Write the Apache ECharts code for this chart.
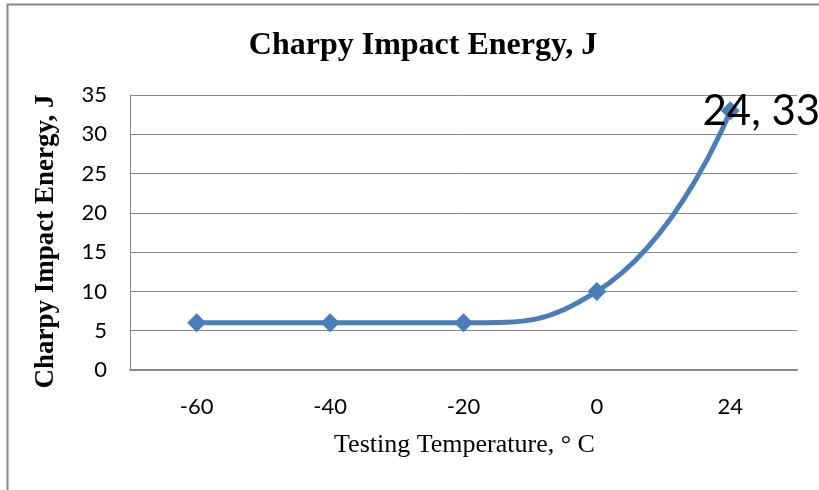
<!DOCTYPE html>
<html>
<head>
<meta charset="utf-8">
<script src="https://cdn.jsdelivr.net/npm/echarts@6/dist/echarts.min.js"></script>
<style>html,body{margin:0;padding:0;background:#fff}#c{width:819px;height:490px}</style>
</head>
<body>
<div id="c"></div>
<script>
var categories = ['-60', '-40', '-20', '0', '24'];
var energy = [6, 6, 6, 10, 33];
var yTicks = [0, 5, 10, 15, 20, 25, 30, 35];
var titleText = 'Charpy Impact Energy, J';
var yName = 'Charpy Impact Energy, J';
var xName = 'Testing Temperature, \u00b0 C';

var chart = echarts.init(document.getElementById('c'), null, {renderer: 'canvas'});
var lastIdx = energy.length - 1;
var seriesData = energy.map(function (v, i) {
  if (i === lastIdx) {
    return {
      value: v,
      label: {
        show: true,
        formatter: categories[i] + ', ' + v,
        position: 'inside',
        offset: [31, 1],
        fontFamily: 'Lato, "Open Sans", sans-serif',
        fontSize: 42,
        color: '#000'
      }
    };
  }
  return v;
});

chart.setOption({
  animation: false,
  backgroundColor: '#fff',
  graphic: [{
    type: 'polyline',
    shape: {points: [[7.5, 495], [7.5, 4.5], [830, 4.5]]},
    style: {stroke: '#888', lineWidth: 2, fill: null},
    z: 0
  }],
  title: {
    text: titleText,
    left: 418,
    textAlign: 'center',
    top: 25,
    textStyle: {fontFamily: '"Liberation Serif", "Times New Roman", serif', fontWeight: 'bold', fontSize: 32, color: '#000'}
  },
  grid: {left: 130, right: 22, top: 95, bottom: 120, containLabel: false},
  xAxis: {
    type: 'category',
    data: categories,
    boundaryGap: true,
    axisLine: {show: true, lineStyle: {color: '#888', width: 2}},
    axisTick: {show: false},
    axisLabel: {margin: 26, fontFamily: 'Lato, "Open Sans", sans-serif', fontSize: 22, color: '#000'},
    name: xName,
    nameLocation: 'middle',
    nameGap: 62,
    nameTextStyle: {fontFamily: '"Liberation Serif", "Times New Roman", serif', fontSize: 26, color: '#000', padding: [0, 0, 0, 2]}
  },
  yAxis: {
    type: 'value',
    min: 0,
    max: 35,
    interval: 5,
    axisLine: {show: true, lineStyle: {color: '#888', width: 1}},
    axisTick: {show: false},
    splitLine: {show: true, lineStyle: {color: '#888', width: 1}},
    axisLabel: {margin: 23, fontFamily: 'Lato, "Open Sans", sans-serif', fontSize: 22, color: '#000',
      formatter: function (v) { return yTicks.indexOf(v) >= 0 ? String(v) : ''; }},
    name: yName,
    nameLocation: 'middle',
    nameRotate: 90,
    nameGap: 70,
    nameTextStyle: {fontFamily: '"Liberation Serif", "Times New Roman", serif', fontWeight: 'bold', fontSize: 27, color: '#000', padding: [0, 18, 0, 0]}
  },
  series: [{
    type: 'line',
    data: seriesData,
    smooth: 0.5,
    smoothConstraint: false,
    symbol: 'diamond',
    symbolSize: 19,
    itemStyle: {color: '#4a7ebb'},
    lineStyle: {color: '#4a7ebb', width: 5},
    z: 3
  }]
});
</script>
</body>
</html>
